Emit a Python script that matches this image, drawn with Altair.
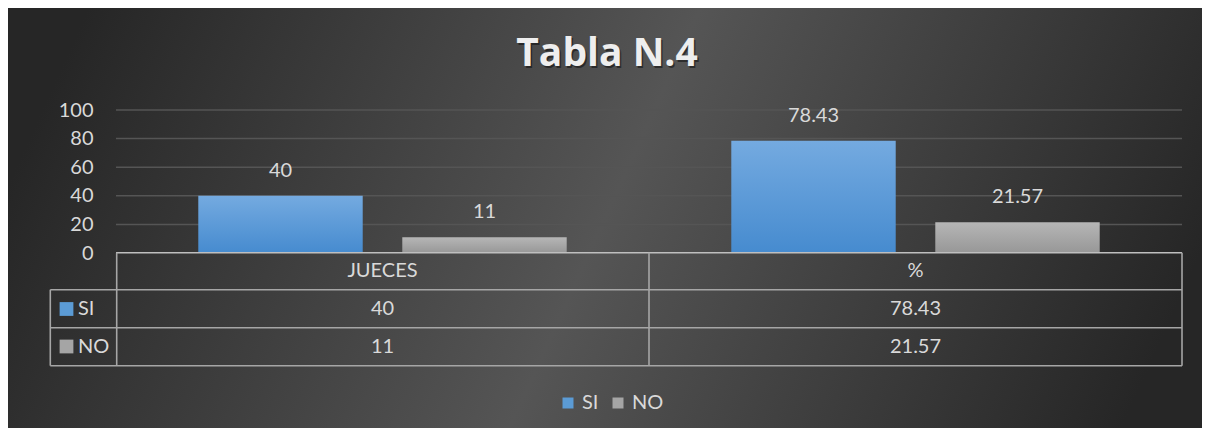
import altair as alt
import pandas as pd

# ---- data ----
grupos = ["JUECES", "%"]
series = ["SI", "NO"]
si_vals = [40, 78.43]
no_vals = [11, 21.57]
y_ticks = [0, 20, 40, 60, 80, 100]
titulo = "Tabla N.4"

rows = []
for g, s_v, n_v in zip(grupos, si_vals, no_vals):
    rows.append({"grupo": g, "serie": "SI", "valor": s_v})
    rows.append({"grupo": g, "serie": "NO", "valor": n_v})
df = pd.DataFrame(rows)
grid_df = pd.DataFrame({"v": [t for t in y_ticks if t > 0]})
head_df = pd.DataFrame({"grupo": grupos})
one = pd.DataFrame({"d": [0]})

# ---- layout (pixels, relative to plot origin) ----
W, H = 1066, 143
PAD = {"left": 108, "top": 102, "right": 20, "bottom": 175}
FONT = "Lato"
TXT = "#d9d9d9"
LINE = "#a6a6a6"
row_y = {"header": 160.5, "SI": 199, "NO": 236.5}
table_top, r1, r2, r3 = 142.7, 179.7, 217.7, 255.7
left_x = -65.7

xsc = alt.Scale(domain=grupos, paddingInner=0, paddingOuter=0)
ysc = alt.Scale(domain=[0, 100], nice=False)
yaxis = alt.Axis(values=y_ticks, title=None, grid=False, domain=False, ticks=False,
                 tickSize=0, labelPadding=23, labelFont=FONT, labelFontSize=20,
                 labelColor=TXT, zindex=1)
xoff = alt.XOffset("serie:N", scale=alt.Scale(domain=series, paddingInner=0.194, paddingOuter=0.4034))

def X():
    return alt.X("grupo:N", scale=xsc, axis=None)

bg_grad = {"gradient": "linear", "x1": 0, "y1": 0.42, "x2": 1, "y2": 0.58,
           "stops": [{"offset": 0, "color": "#262626"},
                     {"offset": 0.5, "color": "#555555"},
                     {"offset": 1, "color": "#262626"}]}
si_grad = {"gradient": "linear", "x1": 0, "y1": 0, "x2": 0, "y2": 1,
           "stops": [{"offset": 0, "color": "#74aae0"}, {"offset": 1, "color": "#468bcf"}]}
no_grad = {"gradient": "linear", "x1": 0, "y1": 0, "x2": 0, "y2": 1,
           "stops": [{"offset": 0, "color": "#b6b6b6"}, {"offset": 1, "color": "#979797"}]}

layers = []

# background
layers.append(alt.Chart(one).mark_rect(fill=bg_grad).encode(
    x=alt.value(-PAD["left"]), x2=alt.value(W + PAD["right"]),
    y=alt.value(-PAD["top"]), y2=alt.value(H + PAD["bottom"])))

# gridlines
layers.append(alt.Chart(grid_df).mark_rule(color="#555555", strokeWidth=1.5).encode(
    y=alt.Y("v:Q", scale=ysc, axis=yaxis), x=alt.value(0), x2=alt.value(W)))

# bars
for s, grad in (("SI", si_grad), ("NO", no_grad)):
    layers.append(alt.Chart(df).transform_filter(alt.datum.serie == s).mark_bar(fill=grad).encode(
        x=X(), xOffset=xoff, y=alt.Y("valor:Q", scale=ysc, axis=yaxis)))

# bar labels
layers.append(alt.Chart(df).mark_text(font=FONT, fontSize=20, color=TXT, baseline="middle", dy=-25).encode(
    x=X(), xOffset=xoff, y=alt.Y("valor:Q", scale=ysc, axis=yaxis), text=alt.Text("valor:Q")))

# data table lines
segs = [
    (0, W, table_top, table_top, "#bfbfbf"),
    (left_x, W, r1, r1, LINE),
    (left_x, W, r2, r2, LINE),
    (left_x, W, r3, r3, LINE),
    (0.7, 0.7, table_top, r3, LINE),
    (W / 2, W / 2, table_top, r3, LINE),
    (W, W, table_top, r3, LINE),
    (left_x, left_x, r1, r3, LINE),
]
for x1, x2, y1, y2, c in segs:
    layers.append(alt.Chart(one).mark_rule(color=c, strokeWidth=1.6).encode(
        x=alt.value(x1), x2=alt.value(x2), y=alt.value(y1), y2=alt.value(y2)))

# table header
layers.append(alt.Chart(head_df).mark_text(font=FONT, fontSize=20, color=TXT, baseline="middle").encode(
    x=X(), y=alt.value(row_y["header"]), text="grupo:N"))

# table rows + row keys (also source of the legend)
color = alt.Color("serie:N", scale=alt.Scale(domain=series, range=["#5b9bd5", "#a5a5a5"]),
                  legend=alt.Legend(orient="none", legendX=442, legendY=283, direction="horizontal",
                                    title=None, symbolType="square", symbolSize=121,
                                    symbolStrokeWidth=0, labelFont=FONT, labelFontSize=20,
                                    labelColor=TXT, labelOffset=4, columnPadding=9, padding=0))
for s in series:
    base = alt.Chart(df).transform_filter(alt.datum.serie == s)
    layers.append(base.mark_text(font=FONT, fontSize=20, color=TXT, baseline="middle").encode(
        x=X(), y=alt.value(row_y[s]), text=alt.Text("valor:Q")))
    key = alt.Chart(df).transform_filter((alt.datum.serie == s) & (alt.datum.grupo == grupos[0]))
    layers.append(key.mark_square(size=190, opacity=1, filled=True).encode(
        x=alt.value(-49.5), y=alt.value(row_y[s]), color=color))
    layers.append(key.mark_text(font=FONT, fontSize=20, color=TXT, align="left", baseline="middle").encode(
        x=alt.value(-38), y=alt.value(row_y[s]), text="serie:N"))

# title (with soft shadow)
tdf = pd.DataFrame({"t": [titulo]})
TFONT = "Open Sans"
layers.append(alt.Chart(tdf).mark_text(font=TFONT, fontSize=39, fontWeight="bold", color="#000000",
                                       opacity=0.45, align="center", baseline="alphabetic").encode(
    x=alt.value(492.5), y=alt.value(-42), text="t:N"))
layers.append(alt.Chart(tdf).mark_text(font=TFONT, fontSize=39, fontWeight="bold", color="#eeeeee",
                                       align="center", baseline="alphabetic").encode(
    x=alt.value(491), y=alt.value(-44), text="t:N"))

chart = alt.layer(*layers).properties(
    width=W, height=H, padding=PAD, autosize=alt.AutoSizeParams(type="none"),
    background="#333333",
).configure_view(stroke=None)

chart.save("out.html", embed_options={"renderer": "svg", "actions": False})
